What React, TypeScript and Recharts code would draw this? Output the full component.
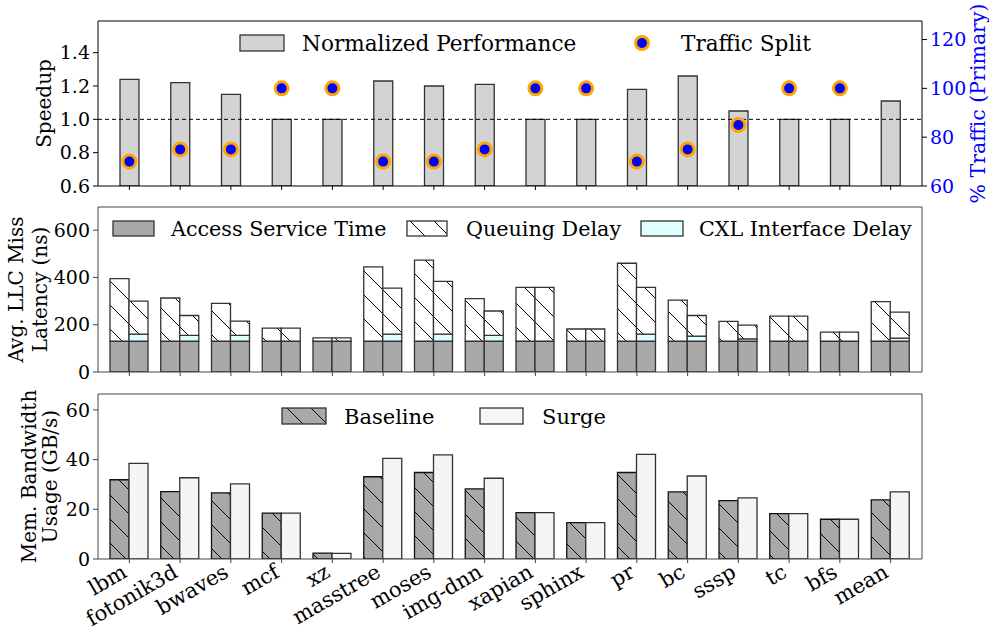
import React from "react"
import { ComposedChart, BarChart, Bar, Line, XAxis, YAxis, ReferenceLine, Legend } from "recharts"

const categories = ["lbm", "fotonik3d", "bwaves", "mcf", "xz", "masstree", "moses", "img-dnn", "xapian", "sphinx", "pr", "bc", "sssp", "tc", "bfs", "mean"]

// top panel
const speedup = [1.24, 1.22, 1.15, 1.0, 1.0, 1.23, 1.2, 1.21, 1.0, 1.0, 1.18, 1.26, 1.05, 1.0, 1.0, 1.11]
const trafficSplit = [70, 75, 75, 100, 100, 70, 70, 75, 100, 100, 70, 75, 85, 100, 100, null]

// middle panel (ns)
const baseAccess = [130, 130, 130, 130, 130, 130, 130, 130, 130, 130, 130, 130, 130, 130, 130, 130]
const baseQueue = [265, 183, 160, 56, 14, 315, 343, 180, 228, 52, 330, 174, 84, 106, 39, 168]
const surgeAccess = [130, 130, 130, 130, 130, 130, 130, 130, 130, 130, 130, 130, 130, 130, 130, 130]
const surgeCxl = [30, 25, 25, 0, 0, 30, 30, 25, 0, 0, 30, 22, 10, 0, 0, 13]
const surgeQueue = [140, 84, 60, 56, 14, 195, 223, 103, 228, 52, 198, 87, 58, 106, 39, 110]

// bottom panel (GB/s)
const bwBaseline = [31.9, 27.1, 26.6, 18.5, 2.4, 33.1, 34.8, 28.2, 18.7, 14.6, 34.8, 27.0, 23.5, 18.3, 16.0, 23.8]
const bwSurge = [38.5, 32.7, 30.2, 18.5, 2.3, 40.5, 41.9, 32.5, 18.7, 14.6, 42.1, 33.4, 24.6, 18.3, 16.0, 27.0]

const speedTicks = [0.6, 0.8, 1.0, 1.2, 1.4]
const trafficTicks = [60, 80, 100, 120]
const latTicks = [0, 200, 400, 600]
const bwTicks = [0, 20, 40, 60]

const perfRows = categories.map((name, i) => ({ name, speedup: speedup[i], traffic: trafficSplit[i] }))
const latRows = categories.map((name, i) => ({
  name,
  baseAccess: baseAccess[i],
  baseQueue: baseQueue[i],
  surgeAccess: surgeAccess[i],
  surgeCxl: surgeCxl[i],
  surgeQueue: surgeQueue[i],
}))
const bwRows = categories.map((name, i) => ({ name, baseline: bwBaseline[i], surge: bwSurge[i] }))

const W = 997
const FONT = "'DejaVu Serif', serif"
const EDGE = "#333"
const SPINE = "#444"
const PAD = { left: 6, right: 6 }
const tickStyle = { fontSize: 19, fill: "#000", fontFamily: FONT }

const AxisTitle = (props: any) => {
  const { viewBox, lines, xs, fill = "#000", size = 20 } = props
  const cy = viewBox.y + viewBox.height / 2
  return (
    <g>
      {lines.map((t: string, i: number) => (
        <text key={i} x={xs[i]} y={cy} transform={`rotate(-90, ${xs[i]}, ${cy})`} textAnchor="middle"
          fontSize={size} fontFamily={FONT} fill={fill}>{t}</text>
      ))}
    </g>
  )
}

const TrafficDot = (props: any) => {
  const { cx, cy, value, index } = props
  if (value == null || cy == null) return <g key={index} />
  return <circle key={index} cx={cx} cy={cy} r={6.5} fill="#0000ff" stroke="#ffa500" strokeWidth={3} />
}

const AngledTick = (props: any) => {
  const { x, y, payload } = props
  const tx = x - 1
  const ty = y + 11
  return (
    <text x={tx} y={ty} transform={`rotate(-30, ${tx}, ${ty})`} textAnchor="end" fontSize={21} fill="#000" fontFamily={FONT}>
      {payload.value}
    </text>
  )
}

const lt = (size: number) => ({ fontSize: size, fontFamily: FONT, fill: "#000" })

const PerfLegend = () => (
  <svg width={W} height={60}>
    <rect x={240} y={35} width={44} height={16} fill="#d3d3d3" stroke={EDGE} strokeWidth={1.3} />
    <text x={302} y={51} {...lt(21.6)}>Normalized Performance</text>
    <circle cx={642} cy={43} r={6.5} fill="#0000ff" stroke="#ffa500" strokeWidth={3} />
    <text x={681} y={51} {...lt(21.6)}>Traffic Split</text>
  </svg>
)

const LatLegend = () => (
  <svg width={W} height={60}>
    <rect x={113} y={26} width={41} height={15} fill="#a9a9a9" stroke={EDGE} strokeWidth={1.3} />
    <text x={171} y={40.5} {...lt(20.7)}>Access Service Time</text>
    <rect x={407} y={26} width={40} height={15} fill="url(#hatchWhite)" stroke={EDGE} strokeWidth={1.3} />
    <text x={466} y={40.5} {...lt(20.7)}>Queuing Delay</text>
    <rect x={641} y={26} width={42} height={15} fill="#e0ffff" stroke={EDGE} strokeWidth={1.3} />
    <text x={699} y={40.5} {...lt(20.7)}>CXL Interface Delay</text>
  </svg>
)

const BwLegend = () => (
  <svg width={W} height={60}>
    <rect x={282} y={23} width={44} height={16} fill="url(#hatchGray)" stroke={EDGE} strokeWidth={1.3} />
    <text x={344} y={38.5} {...lt(21)}>Baseline</text>
    <rect x={480} y={23} width={43} height={16} fill="#f5f5f5" stroke={EDGE} strokeWidth={1.3} />
    <text x={542} y={38.5} {...lt(21)}>Surge</text>
  </svg>
)

const legendWrap = { top: 0, left: 0, width: W, height: 60 }

export default function App() {
  return (
    <div style={{ position: "absolute", left: 0, top: 0, width: W, height: 638, background: "#fff", fontFamily: FONT }}>
      <svg width={0} height={0} style={{ position: "absolute" }}>
        <defs>
          <pattern id="hatchWhite" patternUnits="userSpaceOnUse" width={24} height={24}>
            <rect width={24} height={24} fill="#fff" />
            <path d="M0,0 L24,24 M-6,18 L6,30 M18,-6 L30,6" stroke="#000" strokeWidth={1} />
          </pattern>
          <pattern id="hatchGray" patternUnits="userSpaceOnUse" width={24} height={24}>
            <rect width={24} height={24} fill="#a9a9a9" />
            <path d="M0,0 L24,24 M-6,18 L6,30 M18,-6 L30,6" stroke="#000" strokeWidth={1} />
          </pattern>
        </defs>
      </svg>

      <div style={{ position: "absolute", left: 0, top: 0 }}>
        <ComposedChart width={W} height={212} data={perfRows} margin={{ top: 20, right: 0, bottom: 0, left: 0 }}>
          <XAxis dataKey="name" height={26} padding={PAD} interval={0} tickFormatter={() => ""} tickSize={4} stroke="#000" />
          <XAxis xAxisId="top" orientation="top" dataKey="name" height={1} padding={PAD} tick={false} tickLine={false} stroke="#000" />
          <YAxis yAxisId="l" width={98} domain={[0.6, 1.59]} ticks={speedTicks} allowDataOverflow
            tickFormatter={(v: number) => v.toFixed(1)} tick={tickStyle} tickSize={5} tickMargin={3} stroke="#000"
            label={<AxisTitle lines={["Speedup"]} xs={[51]} />} />
          <YAxis yAxisId="r" orientation="right" width={75} domain={[60, 127.6]} ticks={trafficTicks} allowDataOverflow
            tick={{ ...tickStyle, fill: "#0000ff" }} tickSize={5} tickMargin={3} stroke="#000"
            label={<AxisTitle lines={["% Traffic (Primary)"]} xs={[985]} fill="#0000ff" size={20.5} />} />
          <Bar yAxisId="l" dataKey="speedup" fill="#d3d3d3" stroke={EDGE} strokeWidth={1.3} barSize={19} isAnimationActive={false} />
          <ReferenceLine yAxisId="l" y={1} stroke="#000" strokeDasharray="4 3" strokeWidth={1} />
          <Line yAxisId="r" dataKey="traffic" stroke="none" dot={TrafficDot} activeDot={false} isAnimationActive={false} />
          <Legend layout="horizontal" verticalAlign="middle" align="center" wrapperStyle={legendWrap} content={PerfLegend} />
        </ComposedChart>
      </div>

      <div style={{ position: "absolute", left: 0, top: 195 }}>
        <BarChart width={W} height={190} data={latRows} barGap={0} margin={{ top: 11, right: 0, bottom: 0, left: 0 }}>
          <XAxis dataKey="name" height={13} padding={PAD} interval={0} tickFormatter={() => ""} tickSize={4} stroke={SPINE} />
          <XAxis xAxisId="top" orientation="top" dataKey="name" height={1} padding={PAD} tick={false} tickLine={false} stroke={SPINE} />
          <YAxis width={98} domain={[0, 698]} ticks={latTicks} allowDataOverflow tick={tickStyle} tickSize={5} tickMargin={3}
            stroke={SPINE} label={<AxisTitle lines={["Avg. LLC Miss", "Latency (ns)"]} xs={[23, 47]} />} />
          <YAxis yAxisId="rr" orientation="right" width={75} domain={[0, 1]} tick={false} tickLine={false} stroke={SPINE} />
          <Bar dataKey="baseAccess" stackId="b" fill="#a9a9a9" stroke={EDGE} strokeWidth={1.3} barSize={19} isAnimationActive={false} />
          <Bar dataKey="baseQueue" stackId="b" fill="url(#hatchWhite)" stroke={EDGE} strokeWidth={1.3} barSize={19} isAnimationActive={false} />
          <Bar dataKey="surgeAccess" stackId="s" fill="#a9a9a9" stroke={EDGE} strokeWidth={1.3} barSize={19} isAnimationActive={false} />
          <Bar dataKey="surgeCxl" stackId="s" fill="#e0ffff" stroke={EDGE} strokeWidth={1.3} barSize={19} isAnimationActive={false} />
          <Bar dataKey="surgeQueue" stackId="s" fill="url(#hatchWhite)" stroke={EDGE} strokeWidth={1.3} barSize={19} isAnimationActive={false} />
          <Legend layout="horizontal" verticalAlign="middle" align="center" wrapperStyle={legendWrap} content={LatLegend} />
        </BarChart>
      </div>

      <div style={{ position: "absolute", left: 0, top: 385 }}>
        <BarChart width={W} height={253} data={bwRows} barGap={0} margin={{ top: 8, right: 0, bottom: 0, left: 0 }}>
          <XAxis dataKey="name" height={79} padding={PAD} interval={0} tick={<AngledTick />} tickSize={4} stroke={SPINE} />
          <XAxis xAxisId="top" orientation="top" dataKey="name" height={1} padding={PAD} tick={false} tickLine={false} stroke={SPINE} />
          <YAxis width={98} domain={[0, 66.4]} ticks={bwTicks} allowDataOverflow tick={tickStyle} tickSize={5} tickMargin={3}
            stroke={SPINE} label={<AxisTitle lines={["Mem. Bandwidth", "Usage (GB/s)"]} xs={[36, 57]} />} />
          <YAxis yAxisId="rr" orientation="right" width={75} domain={[0, 1]} tick={false} tickLine={false} stroke={SPINE} />
          <Bar dataKey="baseline" fill="url(#hatchGray)" stroke="#111" strokeWidth={1.3} barSize={19} isAnimationActive={false} />
          <Bar dataKey="surge" fill="#f5f5f5" stroke={EDGE} strokeWidth={1.3} barSize={19} isAnimationActive={false} />
          <Legend layout="horizontal" verticalAlign="middle" align="center" wrapperStyle={legendWrap} content={BwLegend} />
        </BarChart>
      </div>
    </div>
  )
}
